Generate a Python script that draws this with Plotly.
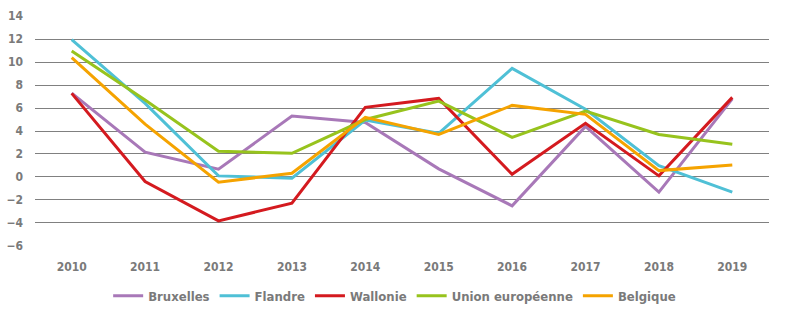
import plotly.graph_objects as go

years = ["2010", "2011", "2012", "2013", "2014", "2015", "2016", "2017", "2018", "2019"]
bruxelles = [7.3, 2.15, 0.67, 5.3, 4.75, 0.7, -2.52, 4.4, -1.33, 6.8]
flandre = [11.97, 6.4, 0.09, -0.12, 4.96, 3.8, 9.45, 5.9, 0.98, -1.33]
wallonie = [7.28, -0.4, -3.83, -2.29, 6.06, 6.84, 0.23, 4.67, 0.09, 6.93]
ue = [10.98, 6.7, 2.23, 2.06, 5.0, 6.6, 3.45, 5.74, 3.7, 2.84]
belgique = [10.4, 4.6, -0.46, 0.32, 5.19, 3.7, 6.23, 5.45, 0.55, 1.04]

series = [
    ("Bruxelles", bruxelles, "#a878b8"),
    ("Flandre", flandre, "#4fc0d6"),
    ("Wallonie", wallonie, "#d41a1f"),
    ("Union européenne", ue, "#97c31d"),
    ("Belgique", belgique, "#f5a300"),
]

font_family = "Liberation Sans Narrow, DejaVu Sans Condensed, Arial Narrow, sans-serif"
gray = "#7a7a7a"

fig = go.Figure()
for name, vals, col in series:
    fig.add_trace(go.Scatter(x=years, y=vals, name=name, mode="lines",
                             line=dict(color=col, width=3)))

fig.update_layout(
    width=789, height=327,
    margin=dict(l=35, r=20, t=16, b=81, autoexpand=False),
    plot_bgcolor="white", paper_bgcolor="white",
    font=dict(family=font_family, color=gray, size=12),
    showlegend=True,
    legend=dict(orientation="h", x=0.49, xanchor="center", y=-0.217, yanchor="middle",
                font=dict(size=13, color=gray, family=font_family, weight="bold"),
                itemwidth=30, tracegroupgap=0),
    xaxis=dict(type="category", showgrid=False, showline=False, zeroline=False,
               tickfont=dict(size=12, color=gray, family=font_family, weight="bold"),
               ticklabelstandoff=12, range=[-0.5, 9.5]),
    yaxis=dict(range=[-6.02, 14.02], dtick=2, tick0=-6, showgrid=True,
               gridcolor="#808080", gridwidth=1, zeroline=False, showline=False,
               tickfont=dict(size=12, color=gray, family=font_family, weight="bold"),
               ticklabelstandoff=11),
)

fig.write_html("out.html")
